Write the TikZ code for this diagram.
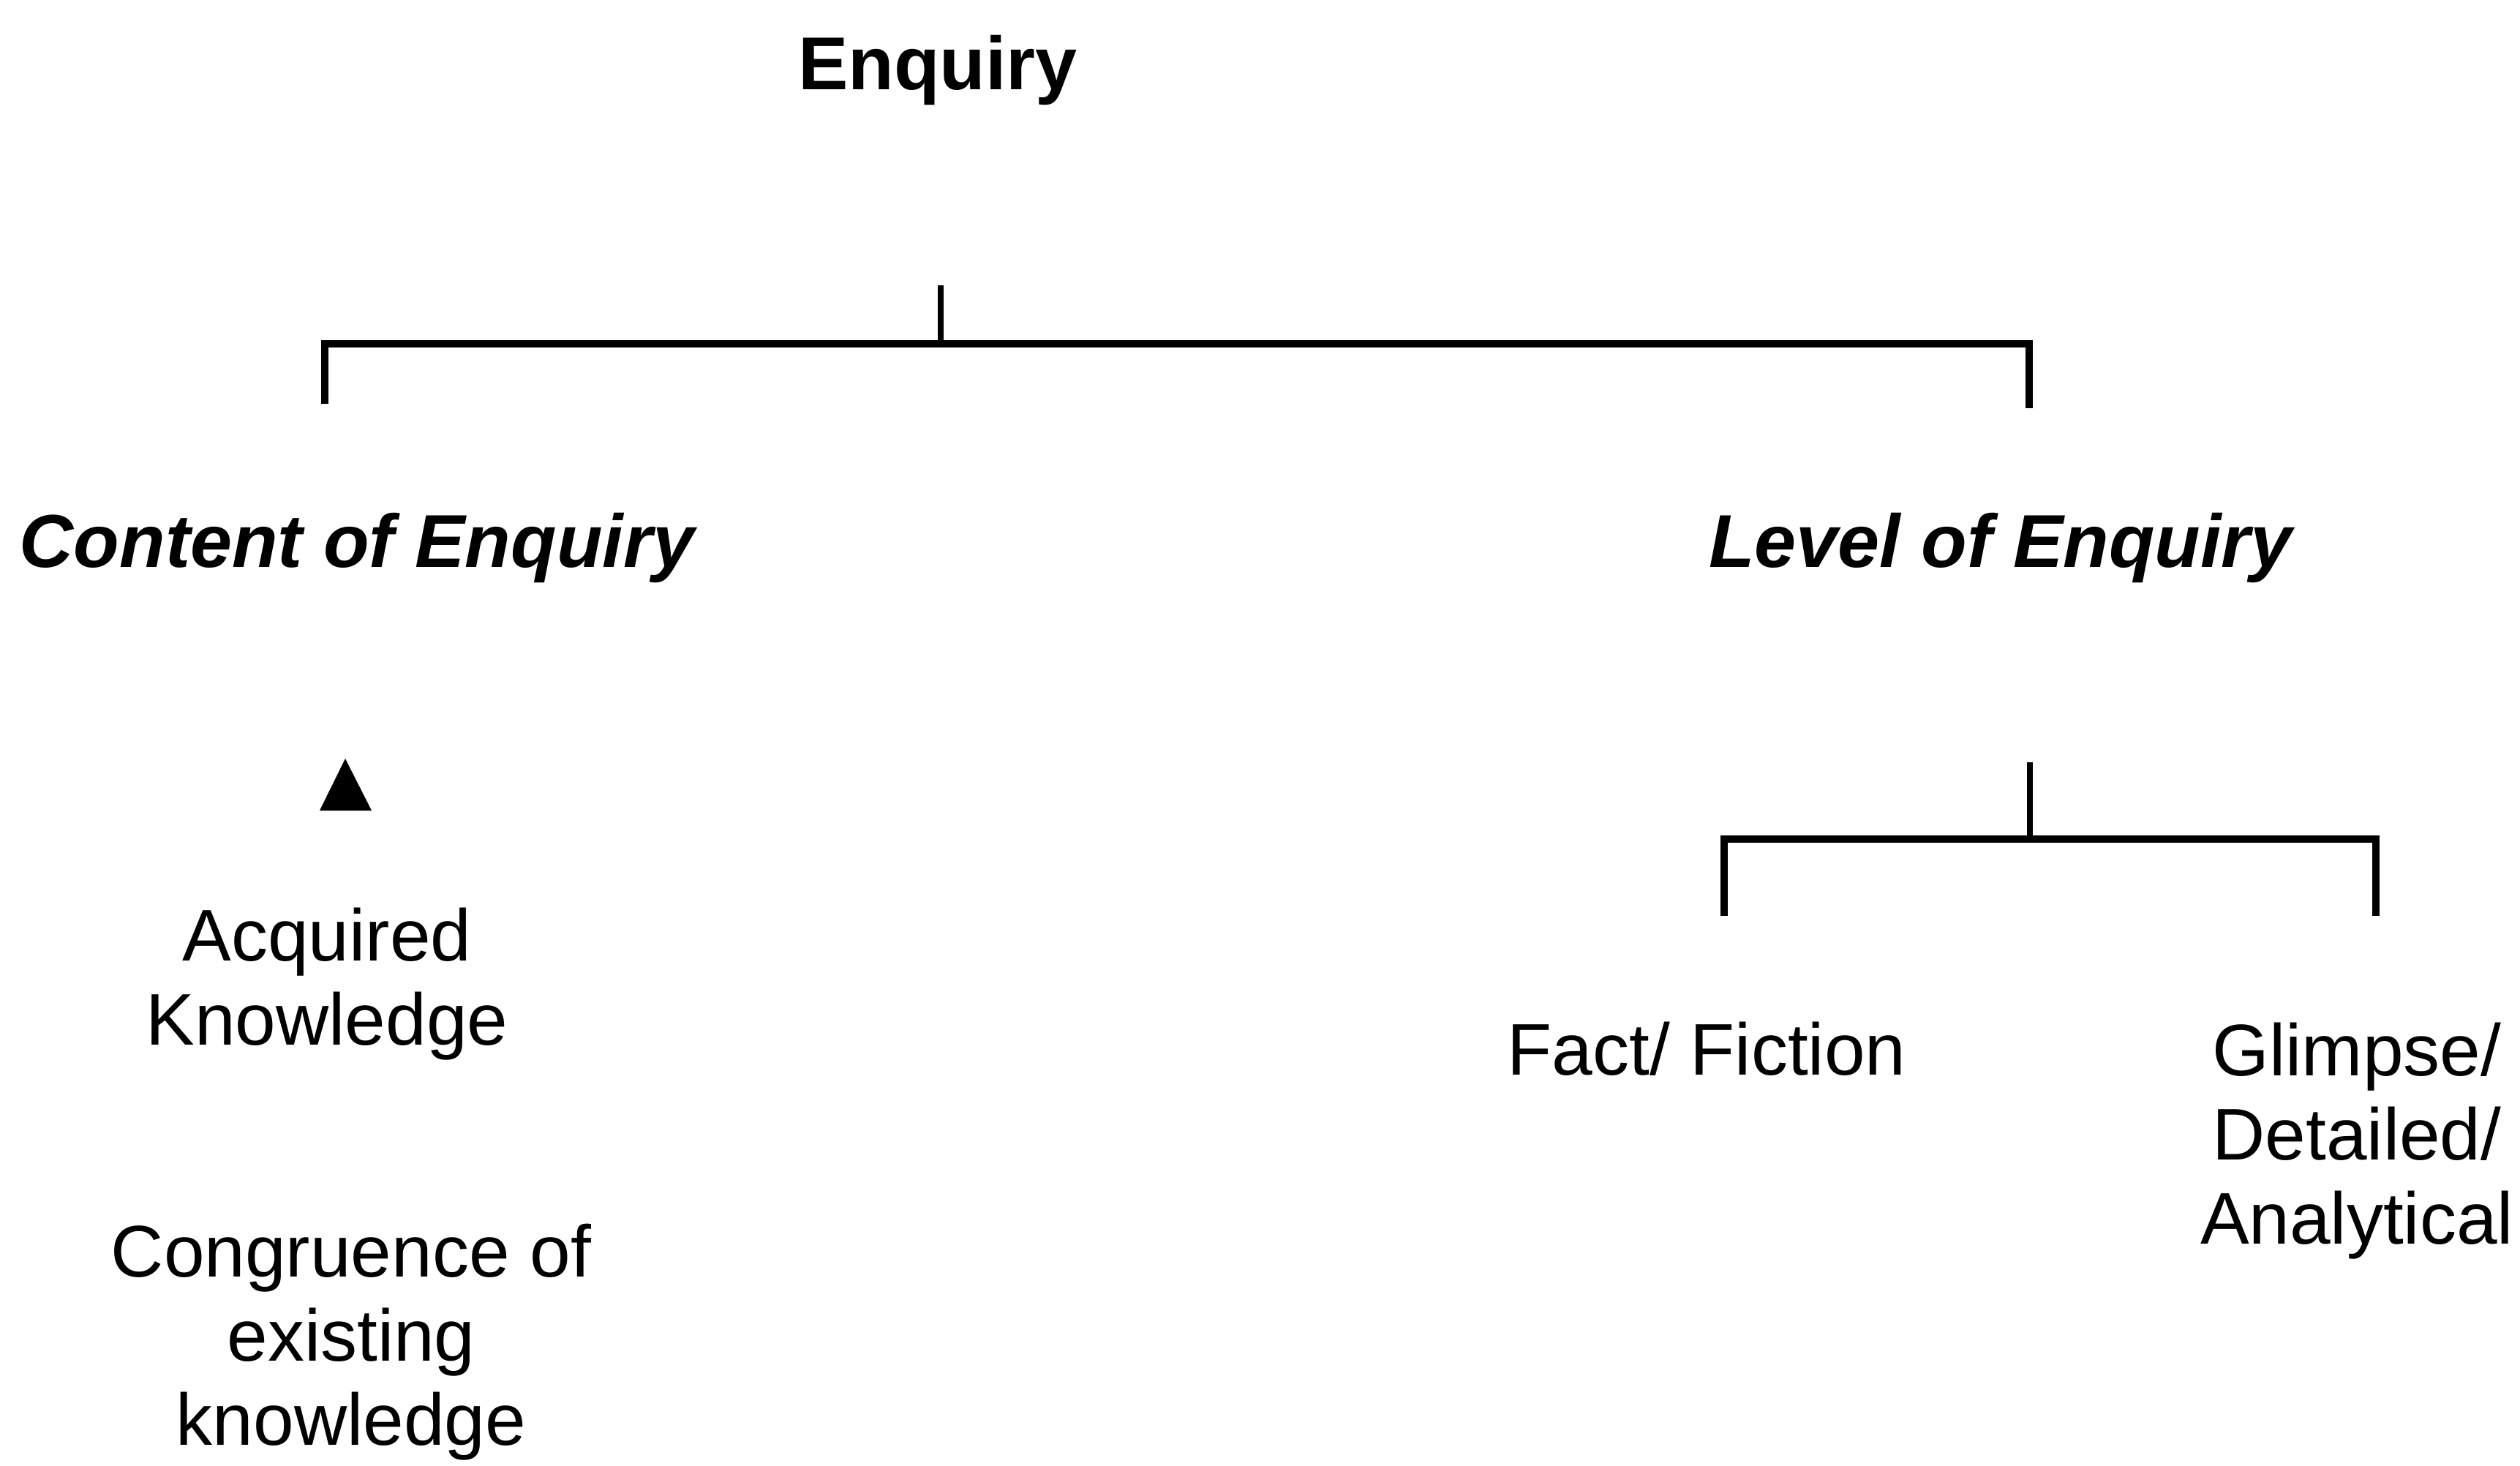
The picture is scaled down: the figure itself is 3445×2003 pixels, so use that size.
\documentclass[tikz,border=0pt]{standalone}
\usepackage{fontspec}
\setmainfont{Liberation Sans}
\begin{document}
\begin{tikzpicture}[x=0.2pt,y=-0.2pt,
  lbl/.style={inner sep=0pt, anchor=base, align=center, font=\fontsize{20pt}{23pt}\selectfont},
  head/.style={lbl, font=\fontsize{20.5pt}{23pt}\selectfont\bfseries\itshape},
  title/.style={lbl, font=\fontsize{20.5pt}{23pt}\selectfont\bfseries},
  bar/.style={line width=2pt, line join=miter},
  stem/.style={line width=1.6pt}]
\useasboundingbox (0,0) rectangle (3445,2003);
% texts (base anchor = baseline of the last line)
\node[title] (enquiry) at (1282,122) {Enquiry};
\node[head] (content) at (488,775) {Content of Enquiry};
\node[head] (level) at (2735,775) {Level of Enquiry};
\node[lbl] (acq) at (447,1428) {Acquired\\Knowledge};
\node[lbl] (cong) at (480,1975) {Congruence of\\existing\\knowledge};
\node[lbl] (fact) at (2333,1469) {Fact/ Fiction};
\node[lbl] (glimpse) at (3222,1700) {Glimpse/\\Detailed/\\Analytical};
% triangle marker
\coordinate (triA) at (472,1037);
\coordinate (triB) at (508,1108);
\coordinate (triC) at (437,1108);
\fill (triA) -- (triB) -- (triC) -- cycle;
% top bracket
\coordinate (t0) at (1286,390);
\coordinate (t1) at (1286,470);
\coordinate (tl) at (444,470);
\coordinate (tr) at (2774,470);
\coordinate (tlb) at (444,552);
\coordinate (trb) at (2774,558);
\draw[stem] (t0) -- (t1);
\draw[bar] (tlb) -- (tl) -- (tr) -- (trb);
% second bracket
\coordinate (s0) at (2775,1042);
\coordinate (s1) at (2775,1147);
\coordinate (sl) at (2357,1147);
\coordinate (sr) at (3248,1147);
\coordinate (slb) at (2357,1252);
\coordinate (srb) at (3248,1252);
\draw[stem] (s0) -- (s1);
\draw[bar] (slb) -- (sl) -- (sr) -- (srb);
\end{tikzpicture}
\end{document}
